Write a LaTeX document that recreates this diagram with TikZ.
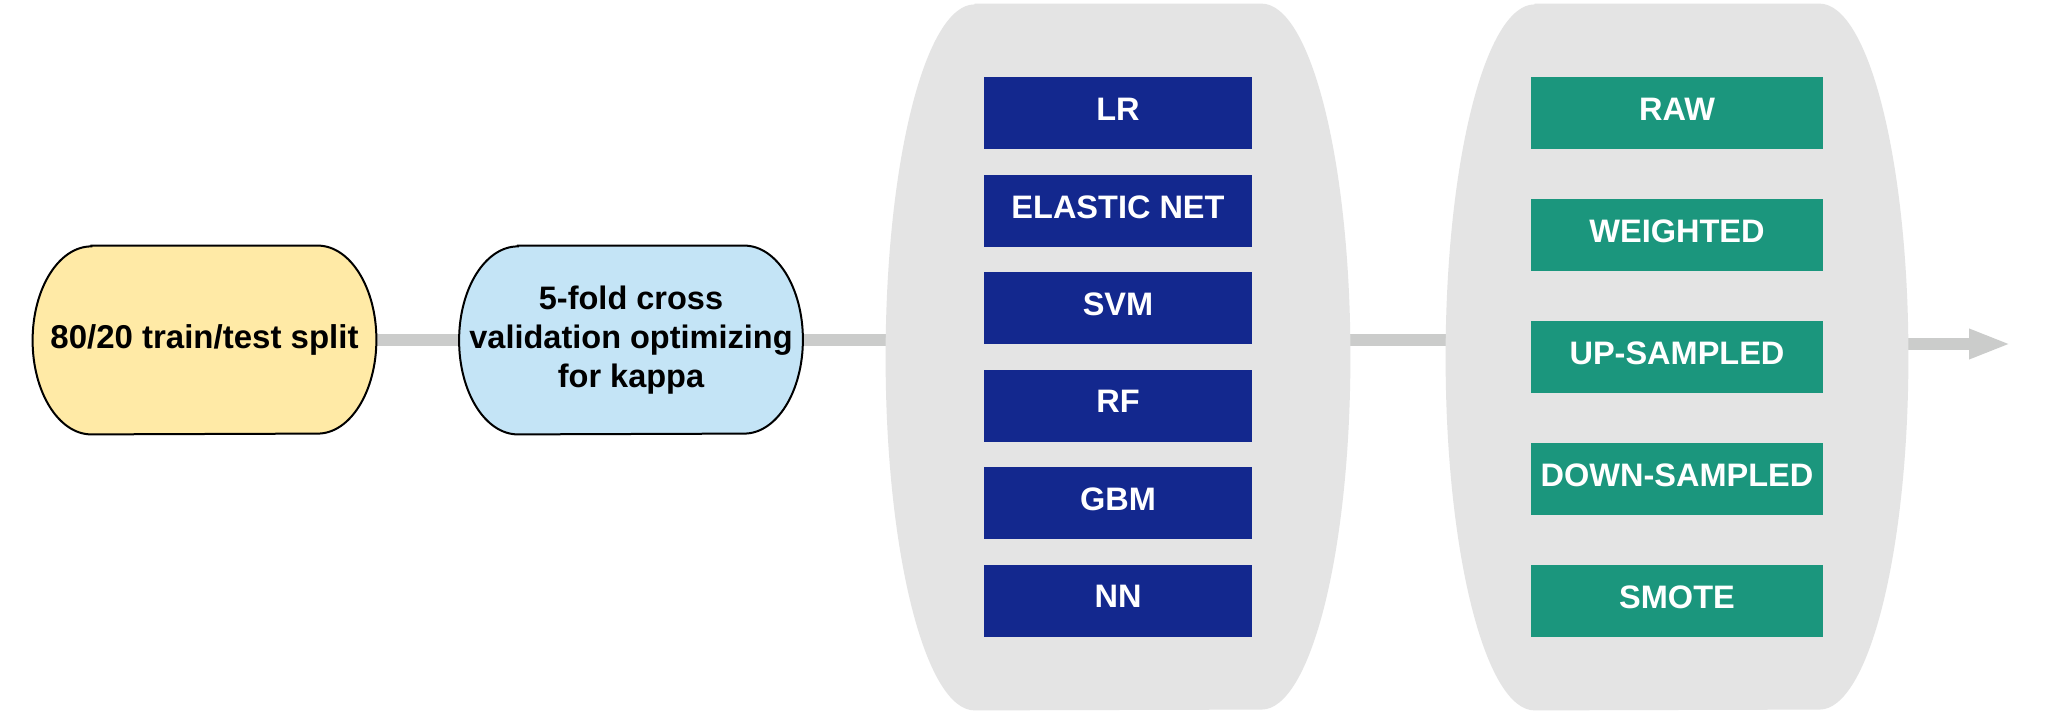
\documentclass[tikz,border=0pt]{standalone}
\usepackage{fontspec}
\setmainfont{Liberation Sans}
\usetikzlibrary{arrows.meta,backgrounds,calc}
\definecolor{yel}{HTML}{FFEAA6}
\definecolor{lblue}{HTML}{C4E4F6}
\definecolor{panel}{HTML}{E4E4E4}
\definecolor{wire}{HTML}{CBCCCB}
\definecolor{navy}{HTML}{13288E}
\definecolor{teal}{HTML}{1B967D}
\newcommand\drawcapsule[4]{%
  \path[#4] ($(#1.north west)+(#2,0)$) -- ($(#1.north east)+(-#2,0)$)
    arc[start angle=90,end angle=-90,x radius=#2,y radius=#3]
    -- ($(#1.south west)+(#2,0)$)
    arc[start angle=270,end angle=90,x radius=#2,y radius=#3] -- cycle;}
\tikzset{
  txt/.style={font=\bfseries\fontsize{16.25pt}{19.7pt}\selectfont},
  term/.style={txt, draw=none, inner sep=0pt, align=center, minimum width=171.5pt, minimum height=94pt},
  panelbox/.style={draw=none, inner sep=0pt, minimum height=353pt},
  flatbox/.style={txt, text=white, inner sep=0pt, text depth=4pt, minimum height=36pt},
  modelbox/.style={flatbox, fill=navy, minimum width=133.75pt},
  sampbox/.style={flatbox, fill=teal, minimum width=146pt},
  conn/.style={draw=wire, line width=6pt}
}
\begin{document}
\begin{tikzpicture}[x=0.5pt,y=-0.5pt]
\useasboundingbox (0,0) rectangle (2055,716);
% main nodes
\node[term, font=\bfseries\fontsize{16.5pt}{20pt}\selectfont] (split) at (204.5,340) {80/20 train/test split};
\node[term] (cv) at (631,340) {5-fold cross\\validation optimizing\\for kappa};
\node[panelbox, minimum width=232pt] (g1) at (1118,357) {};
\node[panelbox, minimum width=231pt] (g2) at (1677,357) {};
% models
\node[modelbox] (lr) at (1118,113.3) {LR};
\node[modelbox] (en) at (1118,210.8) {ELASTIC NET};
\node[modelbox] (svm) at (1118,308.3) {SVM};
\node[modelbox] (rf) at (1118,405.8) {RF};
\node[modelbox] (gbm) at (1118,503.3) {GBM};
\node[modelbox] (nn) at (1118,600.8) {NN};
% sampling
\node[sampbox] (raw) at (1677,113.3) {RAW};
\node[sampbox] (wt) at (1677,235.2) {WEIGHTED};
\node[sampbox] (up) at (1677,357) {UP-SAMPLED};
\node[sampbox] (down) at (1677,479) {DOWN-SAMPLED};
\node[sampbox] (smote) at (1677,601) {SMOTE};
\coordinate (arrowend) at (2011,344);
\begin{scope}[on background layer]
  \fill[white] (0,0) rectangle (2055,716);
  \draw[conn] (split.east) -- (cv.west);
  \draw[conn] (cv.east) -- (cv.east -| g1.west);
  \draw[conn] (g1.east |- cv.east) -- (g2.west |- cv.east);
  \draw[conn, -{Triangle[length=21pt,width=13.7pt]}] (g2.east |- arrowend) -- (arrowend);
  \drawcapsule{split}{29.35pt}{47pt}{fill=yel, draw=black, line width=1pt}
  \drawcapsule{cv}{29.35pt}{47pt}{fill=lblue, draw=black, line width=1pt}
  \drawcapsule{g1}{44.5pt}{176.5pt}{fill=panel}
  \drawcapsule{g2}{44.5pt}{176.5pt}{fill=panel}
\end{scope}
\end{tikzpicture}
\end{document}
